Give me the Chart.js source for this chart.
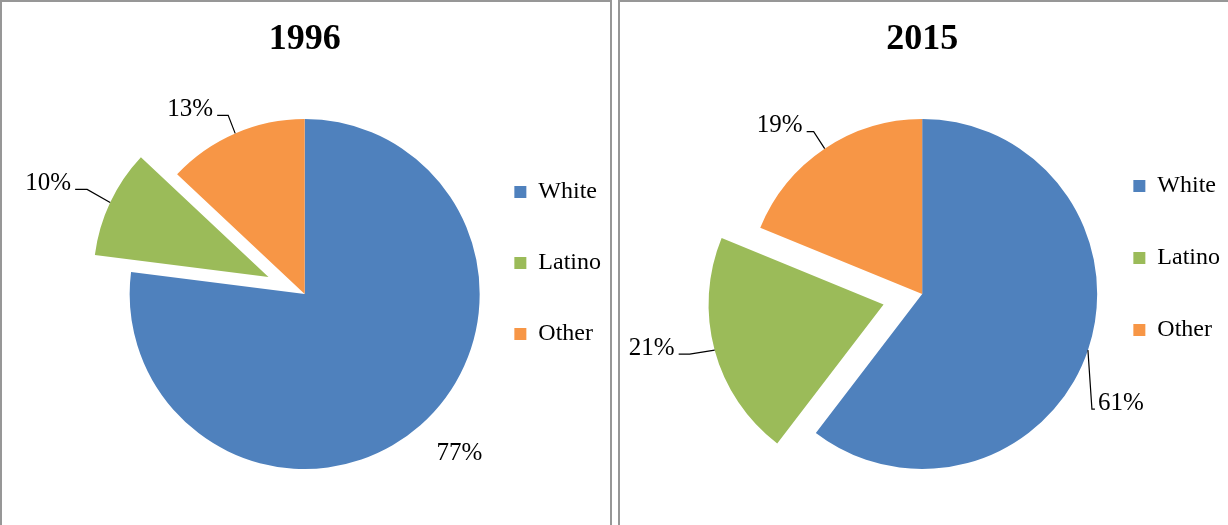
<!DOCTYPE html>
<html>
<head>
<meta charset="utf-8">
<script src="https://cdn.jsdelivr.net/npm/chart.js@4.4.1/dist/chart.umd.min.js"></script>
<style>
  body { margin: 0; background: #fff; }
  .panel {
    position: absolute;
    top: 0;
    width: 612px;
    height: 542px;
    box-sizing: border-box;
    border: 2px solid #979797;
    background: #fff;
    overflow: hidden;
  }
  #p1996 { left: 0; }
  #p2015 { left: 618px; }
</style>
</head>
<body>
<div class="panel" id="p1996"><canvas id="pie1996" width="608" height="538"></canvas></div>
<div class="panel" id="p2015"><canvas id="pie2015" width="608" height="538"></canvas></div>
<script>
'use strict';

const categories = ['White', 'Latino', 'Other'];
const share1996 = [77, 10, 13];
const share2015 = [61, 21, 19];
const sliceColors = ['#4F81BD', '#9BBB59', '#F79646'];

const FONT = "'Liberation Serif', 'Times New Roman', serif";

// how far each slice is pulled out of the pie (px)
const explodeBy = [0, 40, 0];

// label spots, relative to the point where a slice's mid-angle meets its rim
const labels1996 = [
  {dx: 39, dy: 28},
  {elbow: [-23, -13], run: -12},
  {elbow: [-7, -18], run: -11}
];
const labels2015 = [
  {elbow: [4, 59], run: 3},
  {elbow: [-25, 4], run: -11},
  {elbow: [-11, -17], run: -7}
];

function sliceShift(arc, i) {
  const mid = (arc.startAngle + arc.endAngle) / 2;
  const d = explodeBy[i] || 0;
  return {x: Math.cos(mid) * d, y: Math.sin(mid) * d, mid: mid};
}

// draw the arcs ourselves so a slice can be moved out without resizing it
const explodePlugin = {
  id: 'explode',
  beforeDatasetDraw(chart, args) {
    const ctx = chart.ctx;
    args.meta.data.forEach((arc, i) => {
      const s = sliceShift(arc, i);
      ctx.save();
      ctx.translate(s.x, s.y);
      arc.draw(ctx);
      ctx.restore();
    });
    return false;
  }
};

function makeLabelPlugin(spots) {
  return {
    id: 'pctLabels',
    afterDatasetsDraw(chart) {
      const ctx = chart.ctx;
      const values = chart.data.datasets[0].data;
      ctx.save();
      ctx.font = '25px ' + FONT;
      ctx.fillStyle = '#000';
      ctx.strokeStyle = '#000';
      ctx.lineWidth = 1.2;
      ctx.textBaseline = 'middle';
      chart.getDatasetMeta(0).data.forEach((arc, i) => {
        const s = sliceShift(arc, i);
        const ax = arc.x + s.x + Math.cos(s.mid) * arc.outerRadius;
        const ay = arc.y + s.y + Math.sin(s.mid) * arc.outerRadius;
        const spot = spots[i];
        const text = values[i] + '%';
        if (!spot.elbow) {
          ctx.textAlign = 'center';
          ctx.fillText(text, ax + spot.dx, ay + spot.dy);
          return;
        }
        const ex = ax + spot.elbow[0];
        const ey = ay + spot.elbow[1];
        const tx = ex + spot.run;
        ctx.beginPath();
        ctx.moveTo(ax, ay);
        ctx.lineTo(ex, ey);
        ctx.lineTo(tx, ey);
        ctx.stroke();
        ctx.textAlign = spot.run < 0 ? 'right' : 'left';
        ctx.fillText(text, tx + (spot.run < 0 ? -4 : 3), ey - 6);
      });
      ctx.restore();
    }
  };
}

function makePie(id, year, values, spots, box) {
  return new Chart(document.getElementById(id), {
    type: 'pie',
    data: {
      labels: categories,
      datasets: [{
        data: values,
        backgroundColor: sliceColors,
        borderWidth: 0,
        radius: 175
      }]
    },
    options: {
      responsive: false,
      animation: false,
      events: [],
      layout: { padding: box.padding },
      plugins: {
        title: {
          display: true,
          text: year,
          fullSize: false,
          color: '#000',
          font: { family: FONT, size: 36, weight: 'bold' },
          padding: { top: 16, bottom: box.titleGap }
        },
        legend: {
          position: 'right',
          labels: {
            boxWidth: 12,
            boxHeight: 12,
            padding: box.legendGap,
            color: '#000',
            font: { family: FONT, size: 24 }
          }
        },
        tooltip: { enabled: false }
      }
    },
    plugins: [explodePlugin, makeLabelPlugin(spots)]
  });
}

makePie('pie1996', '1996', share1996, labels1996, {
  padding: { left: 140, right: -1, top: 0, bottom: 16 },
  titleGap: 2.8,
  legendGap: 47
});

makePie('pie2015', '2015', share2015, labels2015, {
  padding: { left: 139, right: -2, top: 0, bottom: 26 },
  titleGap: 12.8,
  legendGap: 48
});
</script>
</body>
</html>
